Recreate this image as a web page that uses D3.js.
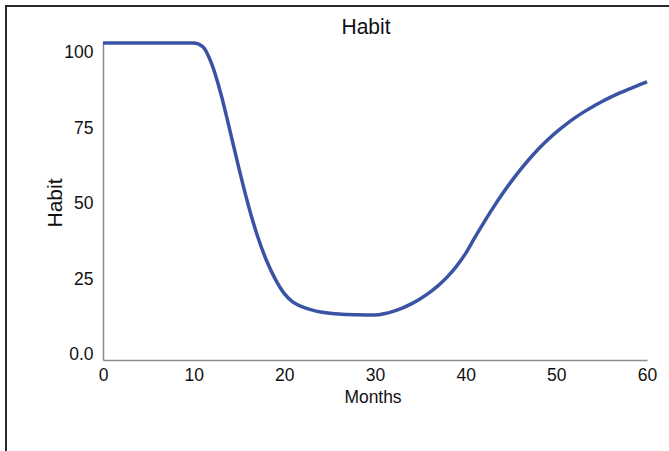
<!DOCTYPE html>
<html>
<head>
<meta charset="utf-8">
<script src="https://cdn.jsdelivr.net/npm/d3@7"></script>
<style>
  html, body { margin: 0; padding: 0; background: #fff; }
  svg { display: block; font-family: "Liberation Sans", Arial, Helvetica, sans-serif; }
</style>
</head>
<body>
<svg id="chart" width="669" height="451"></svg>
<script>
// ---- data ----
const months = [0,1,2,3,4,5,6,7,8,9,10,11,12,13,14,15,16,17,18,19,20,21,22,23,24,25,26,27,28,29,30,31,32,33,34,35,36,37,38,39,40,41,42,43,44,45,46,47,48,49,50,51,52,53,54,55,56,57,58,59,60];
const habit = [103,103,103,103,103,103,103,103,103,103,103,101.8,96,86.2,74,61.4,49.6,39.4,31.2,24.8,20.0,17.1,15.6,14.6,13.9,13.5,13.2,13.05,12.95,12.9,12.9,13.3,14.1,15.2,16.6,18.3,20.3,22.7,25.6,29.1,33.3,38.5,43.5,48.3,52.8,57.0,60.9,64.5,67.8,70.8,73.5,75.9,78.1,80.1,81.9,83.55,85.05,86.45,87.75,88.95,90.2];
const xTicks = [0,10,20,30,40,50,60];
const yTicks = [0,25,50,75,100];
const yTickLabels = ["0.0","25","50","75","100"];
const title = "Habit";
const xLabel = "Months";
const yLabel = "Habit";

// ---- layout ----
const svg = d3.select("#chart");
const mLeft = 103, mRight = 647, mTop = 43, mBottom = 360;

const x = d3.scaleLinear().domain([0, 60]).range([mLeft, mRight]);
const y = d3.scaleLinear().domain([-2, 103]).range([mBottom, mTop]);

// outer frame
svg.append("rect")
  .attr("x", 6).attr("y", 6).attr("width", 720).attr("height", 520)
  .attr("fill", "none").attr("stroke", "#2a2a2a").attr("stroke-width", 2);

// axes
const xAxis = svg.append("g")
  .attr("transform", `translate(0,${mBottom})`)
  .call(d3.axisBottom(x).tickValues(xTicks).tickFormat(d3.format("d")).tickSize(0).tickPadding(8.5));
const yAxis = svg.append("g")
  .attr("transform", `translate(${mLeft},0)`)
  .call(d3.axisLeft(y).tickValues(yTicks).tickFormat((d, i) => yTickLabels[i]).tickSize(0).tickPadding(9.5));

[xAxis, yAxis].forEach(g => {
  g.select(".domain").attr("stroke", "#8c8c8c").attr("stroke-width", 1.5);
  g.selectAll("text").attr("fill", "#111").style("font-size", "17.5px")
    .style("font-family", '"Liberation Sans", Arial, sans-serif');
});

// line
const line = d3.line()
  .x((d, i) => x(months[i]))
  .y(d => y(d))
  .curve(d3.curveMonotoneX);

svg.append("path")
  .datum(habit)
  .attr("d", line)
  .attr("fill", "none")
  .attr("stroke", "#3a54a5")
  .attr("stroke-width", 3.5)
  .attr("stroke-linejoin", "round")
  .attr("stroke-linecap", "butt");

// title and labels
svg.append("text")
  .attr("transform", "translate(366,34) scale(1,1.06)")
  .attr("text-anchor", "middle")
  .attr("fill", "#111")
  .style("font-size", "21px")
  .text(title);

svg.append("text")
  .attr("transform", "translate(373,403) scale(0.97,1.06)")
  .attr("text-anchor", "middle")
  .attr("fill", "#111")
  .style("font-size", "18px")
  .text(xLabel);

svg.append("text")
  .attr("transform", "translate(62,203) rotate(-90)")
  .attr("text-anchor", "middle")
  .attr("fill", "#111")
  .style("font-size", "21px")
  .text(yLabel);
</script>
</body>
</html>
